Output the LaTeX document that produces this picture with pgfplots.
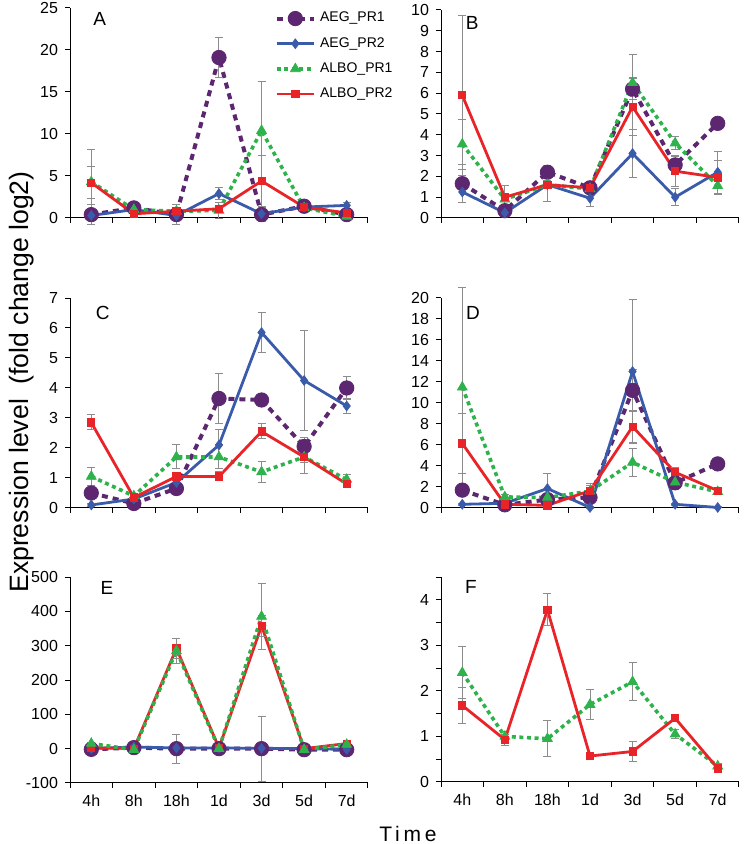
\documentclass[border=0pt]{standalone}
\usepackage{fontspec}
\setmainfont{Liberation Sans}
\newfontfamily\spaced[LetterSpace=18]{Liberation Sans}
\usepackage{pgfplots}
\pgfplotsset{compat=1.18}

\definecolor{cPur}{RGB}{92,39,112}
\definecolor{cBlu}{RGB}{58,90,170}
\definecolor{cGrn}{RGB}{46,178,76}
\definecolor{cRed}{RGB}{232,36,40}
\definecolor{cErr}{RGB}{140,140,140}

\tikzset{lab/.style={font=\fontsize{9.5}{11}\selectfont}}
\pgfplotsset{
  panel/.style={
    scale only axis, width=149pt, height=105pt,
    xmin=0.5, xmax=7.5,
    axis lines*=left, axis line style={line width=0.5pt, -},
    xtick={0.5,1.5,...,7.5}, xticklabels={},
    x tick label as interval,
    tick align=outside, major tick length=2.5pt, minor tick length=2.5pt,
    tick style={black, line width=0.5pt},
    tick label style={font=\fontsize{8}{9}\selectfont},
    /pgf/number format/assume math mode=true,
    clip=false,
  },
  eb/.style={
    /pgfplots/error bars/y dir=both,
    /pgfplots/error bars/y explicit,
    /pgfplots/error bars/error bar style={cErr, line width=0.5pt, solid},
    /pgfplots/error bars/error mark options={rotate=90, cErr, mark size=2pt, line width=0.5pt, solid}},
  aeg1/.style={cPur, line width=2pt, dash pattern=on 3pt off 2.5pt, mark=*, mark size=3.6pt,
    mark options={solid, fill=cPur, line width=0.4pt}, eb},
  aeg2/.style={cBlu, line width=1.4pt, mark=diamond*, mark size=2.4pt,
    mark options={solid, fill=cBlu, line width=0.4pt}, eb},
  albo1/.style={cGrn, line width=1.8pt, dash pattern=on 2pt off 1.8pt, mark=triangle*, mark size=2.8pt,
    mark options={solid, fill=cGrn, line width=0.4pt}, eb},
  albo2/.style={cRed, line width=1.4pt, mark=square*, mark size=1.8pt,
    mark options={solid, fill=cRed, line width=0.4pt}, eb},
}

\begin{document}
\begin{tikzpicture}
\useasboundingbox (0,0) rectangle (371.5pt,422pt);

% ---------- A ----------
\begin{axis}[panel, at={(35pt,313pt)}, anchor=south west,
  ymin=0, ymax=25, ytick={0,5,...,25},
  legend style={at={(0.665,1.02)}, anchor=north west, draw=none, fill=none,
    font=\fontsize{7}{8}\selectfont, row sep=2.2pt, cells={anchor=west}},
  legend image code/.code={\draw[mark repeat=2,mark phase=2] plot coordinates {(0cm,0cm) (0.33cm,0cm) (0.66cm,0cm)};}]
\addplot[aeg1] coordinates {(1,0.4)+-(0,1.2) (2,1.2)+-(0,0.3) (3,0.4)+-(0,1.2) (4,19.1)+-(0,2.4) (5,0.4)+-(0,0.8) (6,1.4)+-(0,0.3) (7,0.4)+-(0,0.2)};
\addplot[aeg2] coordinates {(1,0.3)+-(0,0.2) (2,1.0)+-(0,0.2) (3,0.3)+-(0,0.2) (4,2.9)+-(0,0.7) (5,0.5)+-(0,0.3) (6,1.3)+-(0,0.2) (7,1.5)+-(0,0.4)};
\addplot[albo1] coordinates {(1,4.3)+-(0,3.8) (2,1.0)+-(0,0.2) (3,0.8)+-(0,0.3) (4,0.9)+-(0,1.0) (5,10.4)+-(0,5.8) (6,1.2)+-(0,0.2) (7,0.2)+-(0,0.1)};
\addplot[albo2] coordinates {(1,4.2)+-(0,1.9) (2,0.5)+-(0,0.2) (3,0.8)+-(0,0.2) (4,1.1)+-(0,0.3) (5,4.4)+-(0,3.0) (6,1.3)+-(0,0.2) (7,0.6)+-(0,0.2)};
\legend{AEG\_PR1, AEG\_PR2, ALBO\_PR1, ALBO\_PR2}
\node[lab] at (rel axis cs:0.1,0.95) {A};
\end{axis}

% ---------- B ----------
\begin{axis}[panel, at={(220.5pt,313pt)}, anchor=south west, height=104pt,
  ymin=0, ymax=10, ytick={0,1,...,10}]
\addplot[aeg1] coordinates {(1,1.65)+-(0,0.9) (2,0.35)+-(0,0.2) (3,2.2)+-(0,0.3) (4,1.45)+-(0,0.2) (5,6.2)+-(0,0.5) (6,2.55)+-(0,0.4) (7,4.55)+-(0,0.2)};
\addplot[aeg2] coordinates {(1,1.25)+-(0,0.5) (2,0.25)+-(0,0.15) (3,1.6)+-(0,0.8) (4,0.95)+-(0,0.4) (5,3.1)+-(0,1.15) (6,1.0)+-(0,0.4) (7,2.2)+-(0,1.0)};
\addplot[albo1] coordinates {(1,3.55)+-(0,1.2) (2,0.9)+-(0,0.3) (3,1.6)+-(0,0.2) (4,1.4)+-(0,0.2) (5,6.5)+-(0,1.35) (6,3.6)+-(0,0.3) (7,1.55)+-(0,0.4)};
\addplot[albo2] coordinates {(1,5.9)+-(0,3.85) (2,1.0)+-(0,0.55) (3,1.6)+-(0,0.2) (4,1.45)+-(0,0.2) (5,5.35)+-(0,1.4) (6,2.25)+-(0,0.75) (7,1.95)+-(0,0.8)};
\node[lab] at (rel axis cs:0.105,0.94) {B};
\end{axis}

% ---------- C ----------
\begin{axis}[panel, at={(35pt,168pt)}, anchor=south west,
  ymin=0, ymax=7, ytick={0,1,...,7}]
\addplot[aeg1] coordinates {(1,0.5)+-(0,0.1) (2,0.15)+-(0,0.05) (3,0.65)+-(0,0.1) (4,3.65)+-(0,0.82) (5,3.6)+-(0,0.1) (6,2.05)+-(0,0.3) (7,4.0)+-(0,0.37)};
\addplot[aeg2] coordinates {(1,0.1)+-(0,0.05) (2,0.3)+-(0,0.05) (3,0.85)+-(0,0.1) (4,2.1)+-(0,0.5) (5,5.85)+-(0,0.67) (6,4.25)+-(0,1.67) (7,3.4)+-(0,0.25)};
\addplot[albo1] coordinates {(1,1.05)+-(0,0.3) (2,0.4)+-(0,0.05) (3,1.7)+-(0,0.4) (4,1.7)+-(0,0.4) (5,1.2)+-(0,0.35) (6,1.7)+-(0,0.55) (7,0.95)+-(0,0.15)};
\addplot[albo2] coordinates {(1,2.85)+-(0,0.25) (2,0.35)+-(0,0.05) (3,1.05)+-(0,0.1) (4,1.05)+-(0,0.15) (5,2.55)+-(0,0.25) (6,1.7)+-(0,0.2) (7,0.8)+-(0,0.1)};
\node[lab] at (rel axis cs:0.11,0.93) {C};
\end{axis}

% ---------- D ----------
\begin{axis}[panel, at={(220.5pt,168pt)}, anchor=south west,
  ymin=0, ymax=20, ytick={0,2,...,20}]
\addplot[aeg1] coordinates {(1,1.7)+-(0,0.3) (2,0.3)+-(0,0.1) (3,0.8)+-(0,0.3) (4,1.0)+-(0,0.3) (5,11.2)+-(0,2.0) (6,2.4)+-(0,0.6) (7,4.2)+-(0,0.4)};
\addplot[aeg2] coordinates {(1,0.35)+-(0,0.1) (2,0.45)+-(0,0.1) (3,1.85)+-(0,1.4) (4,0.05)+-(0,0.1) (5,13.0)+-(0,6.9) (6,0.35)+-(0,0.1) (7,0.05)+-(0,0.05)};
\addplot[albo1] coordinates {(1,11.5)+-(0,9.5) (2,1.05)+-(0,0.2) (3,1.0)+-(0,0.3) (4,1.6)+-(0,0.75) (5,4.35)+-(0,1.35) (6,2.45)+-(0,0.6) (7,1.55)+-(0,0.3)};
\addplot[albo2] coordinates {(1,6.15)+-(0,2.83) (2,0.35)+-(0,0.1) (3,0.25)+-(0,0.1) (4,1.65)+-(0,0.5) (5,7.75)+-(0,1.5) (6,3.4)+-(0,0.5) (7,1.65)+-(0,0.2)};
\node[lab] at (rel axis cs:0.107,0.93) {D};
\end{axis}

% ---------- E ----------
\begin{axis}[panel, at={(35pt,30.5pt)}, anchor=south west, height=103pt,
  ymin=-100, ymax=500, ytick={-100,0,...,500},
  xticklabels={4h,8h,18h,1d,3d,5d,7d}]
\addplot[aeg1] coordinates {(1,-2)+-(0,2) (2,3)+-(0,2) (3,0)+-(0,42) (4,0)+-(0,2) (5,0)+-(0,95) (6,-3)+-(0,2) (7,-3)+-(0,2)};
\addplot[aeg2] coordinates {(1,0)+-(0,1) (2,5)+-(0,1) (3,2)+-(0,5) (4,2)+-(0,1) (5,1)+-(0,5) (6,0)+-(0,1) (7,-2)+-(0,1)};
\addplot[albo2] coordinates {(1,3)+-(0,2) (2,0)+-(0,2) (3,292)+-(0,30) (4,2)+-(0,2) (5,358)+-(0,30) (6,0)+-(0,2) (7,15)+-(0,3)};
\addplot[albo1] coordinates {(1,15)+-(0,3) (2,-3)+-(0,2) (3,285)+-(0,37) (4,0)+-(0,2) (5,385)+-(0,95) (6,-3)+-(0,2) (7,12)+-(0,3)};
\node[lab] at (rel axis cs:0.124,0.947) {E};
\end{axis}

% ---------- F ----------
\begin{axis}[panel, at={(220.5pt,31pt)}, anchor=south west, height=102.5pt,
  ymin=0, ymax=4.5, ytick={0,1,...,4}, minor ytick={0.5,1.5,2.5,3.5,4.5},
  xticklabels={4h,8h,18h,1d,3d,5d,7d}]
\addplot[albo1] coordinates {(1,2.4)+-(0,0.57) (2,1.0)+-(0,0.1) (3,0.95)+-(0,0.4) (4,1.7)+-(0,0.32) (5,2.2)+-(0,0.42) (6,1.05)+-(0,0.1) (7,0.35)+-(0,0.05)};
\addplot[albo2] coordinates {(1,1.68)+-(0,0.39) (2,0.93)+-(0,0.12) (3,3.78)+-(0,0.35) (4,0.57)+-(0,0.08) (5,0.67)+-(0,0.23) (6,1.4)+-(0,0.08) (7,0.3)+-(0,0.05)};
\node[lab] at (rel axis cs:0.10,0.95) {F};
\end{axis}

\node[rotate=90, font=\fontsize{13.3}{15}\selectfont] at (11pt,231pt) {Expression level\ \ (fold change log2)};
\node[font=\spaced\fontsize{10.5}{12}\selectfont] at (204pt,5pt) {Time};
\end{tikzpicture}
\end{document}
